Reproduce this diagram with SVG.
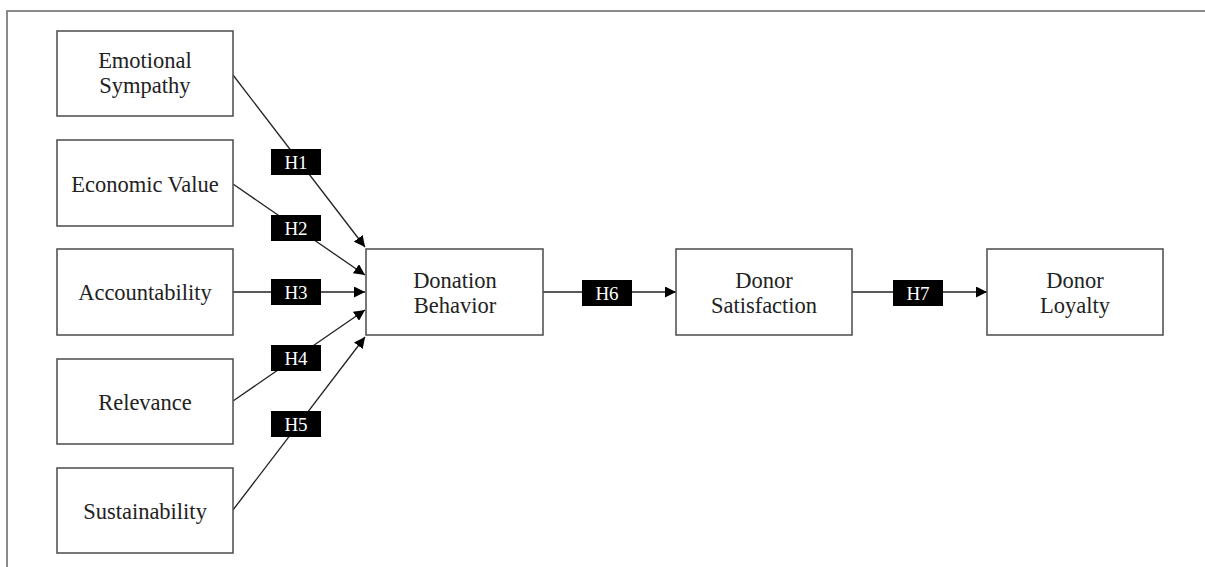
<svg xmlns="http://www.w3.org/2000/svg" width="1205" height="567" viewBox="0 0 1205 567">
<style>
.frame{fill:none;stroke:#8a8a8a;stroke-width:2}
.box{fill:#fff;stroke:#555;stroke-width:1.6}
.t{font-family:"Liberation Serif","Times New Roman",serif;font-size:22.5px;fill:#222;text-anchor:middle}
.edge{stroke:#222;stroke-width:1.3;fill:none;marker-end:url(#ah)}
.lb{fill:#000}
.lt{font-family:"Liberation Serif","Times New Roman",serif;font-size:19px;fill:#fff;text-anchor:middle}
</style>
<defs>
<marker id="ah" markerUnits="userSpaceOnUse" markerWidth="11" markerHeight="11" refX="11" refY="5.5" orient="auto">
<path d="M0,0 L11,5.5 L0,11 z" fill="#000"/>
</marker>
</defs>
<rect width="1205" height="567" fill="#fff"/>
<path class="frame" d="M7,567 L7,11 L1205,11"/>
<g id="connectors">
<line class="edge" x1="233" y1="75" x2="365" y2="247"/>
<line class="edge" x1="233" y1="184" x2="365" y2="275"/>
<line class="edge" x1="233" y1="292" x2="365" y2="292"/>
<line class="edge" x1="233" y1="401" x2="365" y2="310"/>
<line class="edge" x1="233" y1="510" x2="365" y2="337"/>
<line class="edge" x1="543" y1="292" x2="676" y2="292"/>
<line class="edge" x1="852" y1="292" x2="987" y2="292"/>
</g>
<g id="labels">
<g id="h1"><rect class="lb" x="271" y="149" width="50" height="26"/><text class="lt" x="296" y="169">H1</text></g>
<g id="h2"><rect class="lb" x="271" y="215" width="50" height="26"/><text class="lt" x="296" y="235">H2</text></g>
<g id="h3"><rect class="lb" x="271" y="279" width="50" height="26"/><text class="lt" x="296" y="299">H3</text></g>
<g id="h4"><rect class="lb" x="271" y="345" width="50" height="26"/><text class="lt" x="296" y="365">H4</text></g>
<g id="h5"><rect class="lb" x="271" y="411" width="50" height="26"/><text class="lt" x="296" y="431">H5</text></g>
<g id="h6"><rect class="lb" x="582" y="280" width="50" height="26"/><text class="lt" x="607" y="300">H6</text></g>
<g id="h7"><rect class="lb" x="893" y="280" width="50" height="26"/><text class="lt" x="918" y="300">H7</text></g>
</g>
<g id="emotional-sympathy"><rect class="box" x="57" y="31" width="176" height="85"/><text class="t" x="145" y="68">Emotional</text><text class="t" x="145" y="93">Sympathy</text></g>
<g id="economic-value"><rect class="box" x="57" y="140" width="176" height="86"/><text class="t" x="145" y="192">Economic Value</text></g>
<g id="accountability"><rect class="box" x="57" y="249" width="176" height="86"/><text class="t" x="145" y="300">Accountability</text></g>
<g id="relevance"><rect class="box" x="57" y="359" width="176" height="85"/><text class="t" x="145" y="410">Relevance</text></g>
<g id="sustainability"><rect class="box" x="57" y="468" width="176" height="85"/><text class="t" x="145" y="519">Sustainability</text></g>
<g id="donation-behavior"><rect class="box" x="366" y="249" width="177" height="86"/><text class="t" x="455" y="288">Donation</text><text class="t" x="455" y="313">Behavior</text></g>
<g id="donor-satisfaction"><rect class="box" x="676" y="249" width="176" height="86"/><text class="t" x="764" y="288">Donor</text><text class="t" x="764" y="313">Satisfaction</text></g>
<g id="donor-loyalty"><rect class="box" x="987" y="249" width="176" height="86"/><text class="t" x="1075" y="288">Donor</text><text class="t" x="1075" y="313">Loyalty</text></g>
</svg>
